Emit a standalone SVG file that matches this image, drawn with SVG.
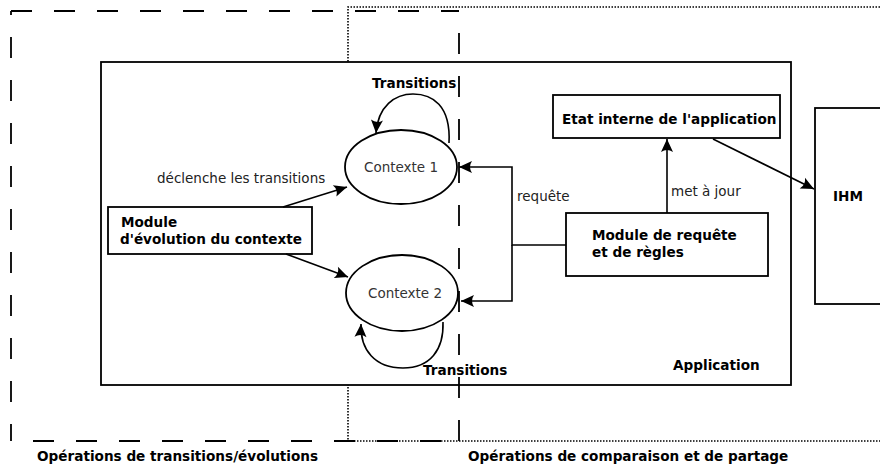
<svg xmlns="http://www.w3.org/2000/svg" width="880" height="467" viewBox="0 0 880 467">
<style>
.b{font-family:"DejaVu Sans",sans-serif;font-weight:bold;font-size:13.6px;fill:#000}
.n{font-family:"DejaVu Sans",sans-serif;font-size:13.5px;fill:#222}
.g{font-family:"DejaVu Sans",sans-serif;font-size:13.5px;fill:#333}
.box{fill:#fff;stroke:#000;stroke-width:1.8}
.ln{fill:none;stroke:#000;stroke-width:1.6}
.dash{fill:none;stroke:#000;stroke-width:1.8;stroke-dasharray:21 22}
.dot{fill:none;stroke:#000;stroke-width:1.6;stroke-dasharray:1.5 1.5}
</style>
<defs>
<marker id="ah" viewBox="-14 -7 15 14" refX="0" refY="0" markerWidth="15" markerHeight="14" markerUnits="userSpaceOnUse" orient="auto">
<path d="M0,0 L-13,-6 Q-9,0 -13,6 Z" fill="#000"/>
</marker>
</defs>
<rect width="880" height="467" fill="#fff"/>
<g id="zone-comparaison">
<path class="dot" d="M880,7 H348 V441 H880"/>
</g>
<g id="application">
<rect class="box" x="101" y="62" width="690" height="323"/>
<text class="b" x="673" y="370">Application</text>
</g>
<g id="ihm">
<rect class="box" x="815" y="108" width="80" height="196"/>
<text class="b" x="833" y="201">IHM</text>
</g>
<g id="etat-interne">
<rect class="box" x="553" y="95" width="227" height="43"/>
<text class="b" x="562" y="124">Etat interne de l'application</text>
</g>
<g id="module-requete">
<rect class="box" x="566" y="213" width="202" height="63"/>
<text class="b" x="592" y="240">Module de requête</text>
<text class="b" x="592" y="257">et de règles</text>
</g>
<g id="module-evolution">
<rect class="box" x="108" y="207" width="204" height="47"/>
<text class="b" x="121" y="227">Module</text>
<text class="b" x="120" y="244">d'évolution du contexte</text>
</g>
<g id="contexte1">
<ellipse class="box" cx="401" cy="167" rx="56" ry="37"/>
<text class="g" x="401" y="172" text-anchor="middle">Contexte 1</text>
</g>
<g id="contexte2">
<ellipse class="box" cx="402" cy="293" rx="56" ry="38"/>
<text class="g" x="405" y="298" text-anchor="middle">Contexte 2</text>
</g>
<g id="connectors">
<path class="ln" d="M283,207 L347,187" marker-end="url(#ah)"/>
<path class="ln" d="M286,254 L348,277" marker-end="url(#ah)"/>
<path class="ln" d="M449,143 C451,105 432,94 413,94 C395,94 378,106 376,133" marker-end="url(#ah)"/>
<path class="ln" d="M443,322 C444,350 430,368 403,368 C375,368 360,350 361,324" marker-end="url(#ah)"/>
<path class="ln" d="M566,245 H512 V167 H459" marker-end="url(#ah)"/>
<path class="ln" d="M512,245 V301 H461" marker-end="url(#ah)"/>
<path class="ln" d="M667,213 V139" marker-end="url(#ah)"/>
<path class="ln" d="M713,139 L814,189" marker-end="url(#ah)"/>
<text class="b" x="372" y="88">Transitions</text>
<text class="b" x="423" y="375">Transitions</text>
<text class="n" x="157" y="183">déclenche les transitions</text>
<text class="n" x="517" y="201">requête</text>
<text class="n" x="671" y="196">met à jour</text>
</g>
<g id="zone-transitions">
<path class="dash" d="M11,11 H459"/>
<path class="dash" d="M459,11 V441" stroke-dashoffset="21"/>
<path class="dash" d="M11,11 V441" stroke-dashoffset="17"/>
<path class="dash" d="M11,441 H459" stroke-dashoffset="21"/>
</g>
<text class="b" x="37" y="461">Opérations de transitions/évolutions</text>
<text class="b" x="468" y="461">Opérations de comparaison et de partage</text>
</svg>
